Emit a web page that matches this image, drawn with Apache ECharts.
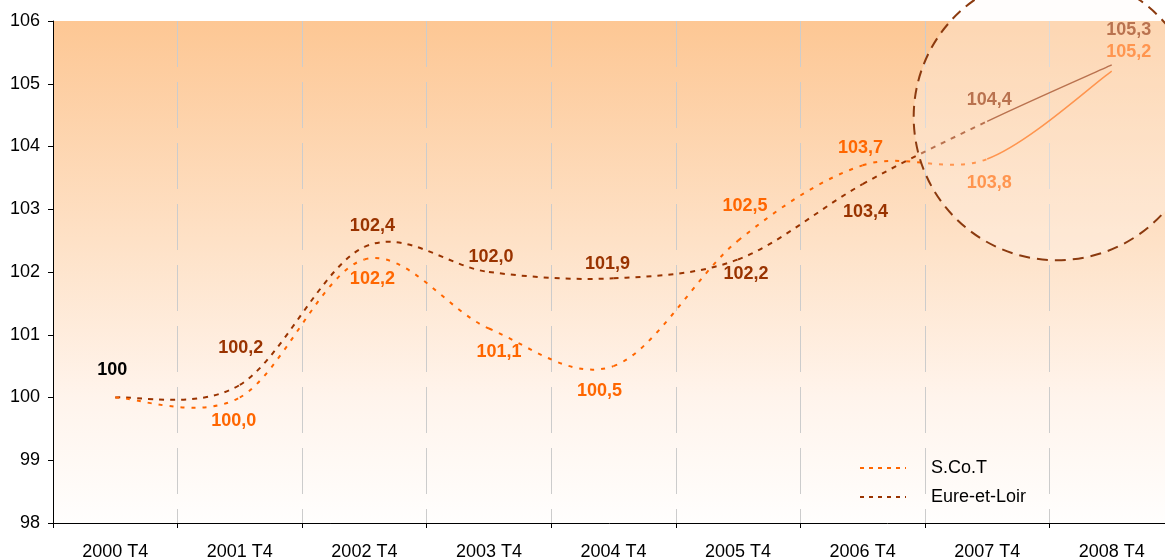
<!DOCTYPE html>
<html>
<head>
<meta charset="utf-8">
<script src="https://cdn.jsdelivr.net/npm/echarts@6/dist/echarts.min.js"></script>
<style>
html,body{margin:0;padding:0;background:#fff;}
#chart{width:1165px;height:560px;}
</style>
</head>
<body>
<div id="chart"></div>
<script>
// ---- data ----
const categories = ['2000 T4','2001 T4','2002 T4','2003 T4','2004 T4','2005 T4','2006 T4','2007 T4','2008 T4'];
const scotValues = [100, 100.0, 102.2, 101.1, 100.5, 102.5, 103.7, 103.8, 105.2];
const eureValues = [100, 100.2, 102.4, 102.0, 101.9, 102.2, 103.4, 104.4, 105.3];
const yTicks = [98, 99, 100, 101, 102, 103, 104, 105, 106];
const baseLabel = '100';

// ---- label placement (style, not data) ----
const scotOffsets = [[-3,-27],[-6,24],[8,20],[10,24],[-14,25],[7,-35],[-2,-17],[2,24],[17,-19]];
const eureOffsets = [null,[1,-37],[8,-21],[2,-15],[-6,-14],[8,15],[3,28],[2,-21],[17,-35]];

const ORANGE = '#FF6600';
const BROWN = '#993300';
const FONT = '"Liberation Sans", Arial, sans-serif';
const fmt = v => v.toFixed(1).replace('.', ',');
const lastSeg = categories.length - 2; // index of the solid (last) segment

function labelFor(text, color, off) {
  return { show: true, position: 'inside', offset: off, formatter: text,
           color: color, fontFamily: FONT, fontWeight: 'bold', fontSize: 18 };
}
function labelData(values, offsets, color, isFirst) {
  return values.map((v, i) => {
    let label = { show: false };
    if (i === 0) {
      if (isFirst) label = labelFor(baseLabel, '#000', offsets[0]);
    } else if (offsets[i]) {
      label = labelFor(fmt(v), color, offsets[i]);
    }
    return { value: v, label: label };
  });
}

// smooth curve (Catmull-Rom style Bezier, as in the spreadsheet's smoothed lines)
function curveSeries(name, values, color, dash, z) {
  return {
    name: name, type: 'custom', z: z, silent: true,
    encode: { x: 0, y: 1 },
    data: values.slice(0, -1).map((v, i) => [i, v]),
    renderItem: function (params, api) {
      const i = params.dataIndex;
      const n = values.length;
      const pt = k => {
        const c = Math.max(0, Math.min(n - 1, k));
        return api.coord([c, values[c]]);
      };
      const p0 = pt(i - 1), p1 = pt(i), p2 = pt(i + 1), p3 = pt(i + 2);
      const solid = i === lastSeg;
      return {
        type: 'bezierCurve',
        shape: {
          x1: p1[0], y1: p1[1], x2: p2[0], y2: p2[1],
          cpx1: p1[0] + (p2[0] - p0[0]) / 6, cpy1: p1[1] + (p2[1] - p0[1]) / 6,
          cpx2: p2[0] - (p3[0] - p1[0]) / 6, cpy2: p2[1] - (p3[1] - p1[1]) / 6
        },
        style: { fill: null, stroke: color, lineWidth: solid ? 1.5 : 2, lineDash: solid ? null : dash }
      };
    }
  };
}

const chart = echarts.init(document.getElementById('chart'), null, { renderer: 'canvas' });
const option = {
  animation: false,
  backgroundColor: '#ffffff',
  textStyle: { fontFamily: FONT },
  grid: {
    left: 53, width: 1121, top: 21, height: 502, show: true, borderWidth: 0,
    outerBoundsMode: 'none', containLabel: false,
    backgroundColor: new echarts.graphic.LinearGradient(0, 0, 0, 1, [
      { offset: 0, color: '#FDC794' },
      { offset: 0.45, color: '#FEE2C8' },
      { offset: 0.75, color: '#FFF4EC' },
      { offset: 1, color: '#FFFEFD' }
    ])
  },
  legend: {
    orient: 'vertical', left: 854, top: 454,
    itemWidth: 46, itemHeight: 14, itemGap: 11,
    data: ['S.Co.T', 'Eure-et-Loir'],
    lineStyle: { opacity: 1, width: 2, type: [4, 5] },
    itemStyle: { opacity: 0 },
    textStyle: { fontFamily: FONT, fontSize: 18, color: '#000', padding: [0, 0, 0, 20] }
  },
  xAxis: {
    type: 'category', data: categories, boundaryGap: true,
    axisLine: { lineStyle: { color: '#000', width: 1 } },
    axisTick: { show: true, length: 5, lineStyle: { color: '#000' } },
    axisLabel: { color: '#000', fontSize: 18, fontFamily: FONT, margin: 20 },
    splitLine: { show: true, lineStyle: { color: '#CCCCCC', width: 1, type: [46, 15] } }
  },
  yAxis: {
    type: 'value', min: yTicks[0], max: yTicks[yTicks.length - 1], interval: 1,
    axisLine: { show: true, lineStyle: { color: '#000', width: 1 } },
    axisTick: { show: true, length: 5, lineStyle: { color: '#000' } },
    axisLabel: { color: '#000', fontSize: 18, fontFamily: FONT, margin: 13 },
    splitLine: { show: false }
  },
  series: [
    curveSeries('S.Co.T curve', scotValues, ORANGE, [4, 7], 3),
    curveSeries('Eure-et-Loir curve', eureValues, BROWN, [5, 6], 2),
    {
      name: 'S.Co.T', type: 'line', symbol: 'circle', symbolSize: 2, z: 4,
      lineStyle: { color: ORANGE, width: 2, type: [4, 5], opacity: 0 },
      itemStyle: { color: 'rgba(0,0,0,0)' },
      data: labelData(scotValues, scotOffsets, ORANGE, true)
    },
    {
      name: 'Eure-et-Loir', type: 'line', symbol: 'circle', symbolSize: 2, z: 4,
      lineStyle: { color: BROWN, width: 2, type: [4, 5], opacity: 0 },
      itemStyle: { color: 'rgba(0,0,0,0)' },
      data: labelData(eureValues, eureOffsets, BROWN, false)
    }
  ]
};
chart.setOption(option);

// dashed highlight circle around the last year, positioned through the axes
const p7 = chart.convertToPixel({ gridIndex: 0 }, [7, 104.47]);
const p8 = chart.convertToPixel({ gridIndex: 0 }, [8, 104.47]);
const band = p8[0] - p7[0];
chart.setOption({
  graphic: [{
    type: 'circle', z: 100, silent: true,
    shape: { cx: p7[0] + 0.56 * band, cy: p7[1], r: 1.15 * band },
    style: { fill: 'rgba(255,250,245,0.32)', stroke: '#8B3A0F', lineWidth: 2, lineDash: [11, 7] }
  }]
});
</script>
</body>
</html>
